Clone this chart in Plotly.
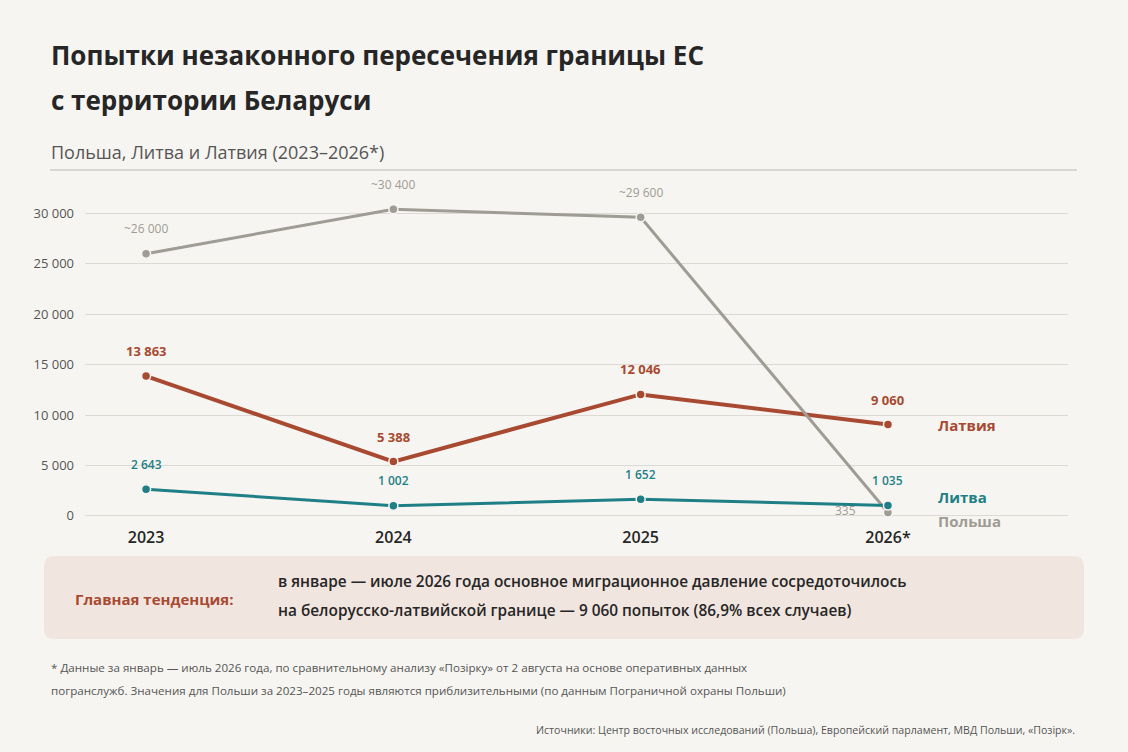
import plotly.graph_objects as go

# Data
years = ["2023", "2024", "2025", "2026*"]
latvia = [13863, 5388, 12046, 9060]
lithuania = [2643, 1002, 1652, 1035]
poland = [26000, 30400, 29600, 335]
latvia_labels = ["13 863", "5 388", "12 046", "9 060"]
lithuania_labels = ["2 643", "1 002", "1 652", "1 035"]
poland_labels = ["~26 000", "~30 400", "~29 600", "335"]
y_ticks = [0, 5000, 10000, 15000, 20000, 25000, 30000]
y_tick_text = ["0", "5 000", "10 000", "15 000", "20 000", "25 000", "30 000"]

BG = "#f7f5f1"
RUST = "#a84a32"
TEAL = "#1e7f86"
GRAY = "#9e9c94"
FONT = "Open Sans"

W, H = 1128, 752
L, R, T, B = 85, 60, 178, 226


def px(x):
    return (x - L) / (W - L - R)


def py(y):
    return (H - B - y) / (H - T - B)


fig = go.Figure()

series = [
    ("Латвия", latvia, RUST, 4),
    ("Польша", poland, GRAY, 3),
    ("Литва", lithuania, TEAL, 3),
]
for name, vals, color, width in series:
    fig.add_trace(go.Scatter(
        x=years, y=vals, mode="lines+markers", name=name,
        line=dict(color=color, width=width),
        marker=dict(size=9, color=color, line=dict(color=BG, width=1.5)),
        hoverinfo="skip",
    ))

ann = []
# data labels (x as category index, "2023" would be read as a number)
for i, yr in enumerate(years):
    ann.append(dict(x=i, y=latvia[i], text=latvia_labels[i], showarrow=False, yshift=25,
                    font=dict(family=FONT, size=13, color=RUST, weight=700)))
    ann.append(dict(x=i, y=lithuania[i], text=lithuania_labels[i], showarrow=False, yshift=25,
                    font=dict(family=FONT, size=12, color=TEAL, weight=600)))
    if i < 3:
        ann.append(dict(x=i, y=poland[i], text=poland_labels[i], showarrow=False, yshift=25,
                        font=dict(family=FONT, size=12, color=GRAY)))
    else:
        ann.append(dict(x=i, y=poland[i], text=poland_labels[i], showarrow=False,
                        xanchor="right", xshift=-30, yshift=2,
                        font=dict(family=FONT, size=12, color=GRAY)))

# series names at right end
ann.append(dict(xref="paper", yref="y", x=px(936), y=latvia[3], xanchor="left", text="Латвия",
                showarrow=False, font=dict(family=FONT, size=15, color=RUST, weight=700)))
ann.append(dict(xref="paper", yref="y", x=px(936), y=lithuania[3], yshift=8, xanchor="left", text="Литва",
                showarrow=False, font=dict(family=FONT, size=15, color=TEAL, weight=700)))
ann.append(dict(xref="paper", yref="y", x=px(936), y=poland[3], yshift=-8, xanchor="left", text="Польша",
                showarrow=False, font=dict(family=FONT, size=15, color=GRAY, weight=700)))

# titles
ann.append(dict(xref="paper", yref="paper", x=px(49), y=py(55), xanchor="left", yanchor="middle",
                text="Попытки незаконного пересечения границы ЕС", showarrow=False,
                font=dict(family=FONT, size=26, color="#262626", weight=700)))
ann.append(dict(xref="paper", yref="paper", x=px(49), y=py(100), xanchor="left", yanchor="middle",
                text="с территории Беларуси", showarrow=False,
                font=dict(family=FONT, size=26, color="#262626", weight=700)))
ann.append(dict(xref="paper", yref="paper", x=px(49), y=py(152), xanchor="left", yanchor="middle",
                text="Польша, Литва и Латвия (2023–2026*)", showarrow=False,
                font=dict(family=FONT, size=18, color="#555555")))

# key trend box
ann.append(dict(xref="paper", yref="paper", x=px(73), y=py(599), xanchor="left", yanchor="middle",
                text="Главная тенденция:", showarrow=False,
                font=dict(family=FONT, size=15, color=RUST, weight=700)))
ann.append(dict(xref="paper", yref="paper", x=px(276), y=py(581), xanchor="left", yanchor="middle",
                text="в январе — июле 2026 года основное миграционное давление сосредоточилось",
                showarrow=False, font=dict(family=FONT, size=15.4, color="#262626", weight=600)))
ann.append(dict(xref="paper", yref="paper", x=px(276), y=py(610), xanchor="left", yanchor="middle",
                text="на белорусско-латвийской границе — 9 060 попыток (86,9% всех случаев)",
                showarrow=False, font=dict(family=FONT, size=15.4, color="#262626", weight=600)))

# footnotes
ann.append(dict(xref="paper", yref="paper", x=px(49), y=py(667), xanchor="left", yanchor="middle",
                text="* Данные за январь — июль 2026 года, по сравнительному анализу «Позірку» от 2 августа на основе оперативных данных",
                showarrow=False, font=dict(family=FONT, size=11.6, color="#555555")))
ann.append(dict(xref="paper", yref="paper", x=px(49), y=py(690), xanchor="left", yanchor="middle",
                text="погранслужб. Значения для Польши за 2023–2025 годы являются приблизительными (по данным Пограничной охраны Польши)",
                showarrow=False, font=dict(family=FONT, size=11.6, color="#555555")))
ann.append(dict(xref="paper", yref="paper", x=px(1077), y=py(730), xanchor="right", yanchor="middle",
                text="Источники: Центр восточных исследований (Польша), Европейский парламент, МВД Польши, «Позірк».",
                showarrow=False, font=dict(family=FONT, size=10.6, color="#555555")))

# rounded box path
x0, x1, y0, y1, r = px(44), px(1084), py(556), py(639), 10
rx = r / (W - L - R)
ry = r / (H - T - B)
path = (f"M {x0+rx},{y0} L {x1-rx},{y0} Q {x1},{y0} {x1},{y0-ry} "
        f"L {x1},{y1+ry} Q {x1},{y1} {x1-rx},{y1} L {x0+rx},{y1} "
        f"Q {x0},{y1} {x0},{y1+ry} L {x0},{y0-ry} Q {x0},{y0} {x0+rx},{y0} Z")

shapes = [
    dict(type="path", xref="paper", yref="paper", path=path,
         fillcolor="#f1e5df", line=dict(width=0), layer="below"),
    dict(type="line", xref="paper", yref="paper", x0=px(50), x1=px(1077), y0=py(170), y1=py(170),
         line=dict(color="#cfcdc8", width=1.5)),
]

fig.update_layout(
    width=W, height=H,
    margin=dict(l=L, r=R, t=T, b=B),
    paper_bgcolor=BG, plot_bgcolor=BG,
    showlegend=False,
    font=dict(family=FONT, color="#555555"),
    annotations=ann,
    shapes=shapes,
    xaxis=dict(type="category", range=[-0.247, 3.728], showgrid=False, zeroline=False,
               showline=False, ticks="", fixedrange=True,
               tickfont=dict(family=FONT, size=16, color="#262626", weight=600)),
    yaxis=dict(range=[-1000, 33500], tickvals=y_ticks, ticktext=y_tick_text,
               showgrid=True, gridcolor="#dcdad5", gridwidth=1, zeroline=False,
               showline=False, ticks="", ticklabelstandoff=10, fixedrange=True,
               tickfont=dict(family=FONT, size=13, color="#555555")),
)

fig.write_html("out.html", config={"displayModeBar": False},
               post_script="document.body.style.margin='0';document.body.style.background='" + BG + "';")
